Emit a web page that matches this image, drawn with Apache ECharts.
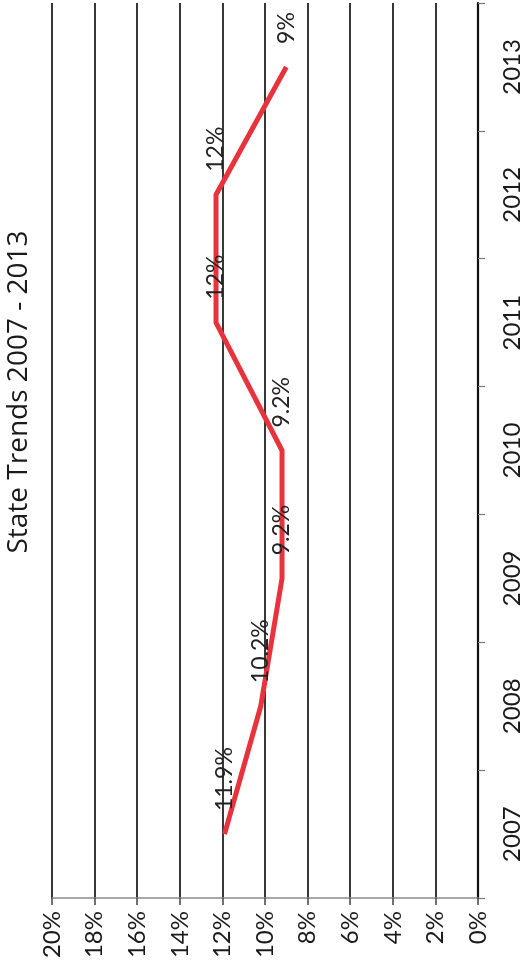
<!DOCTYPE html>
<html>
<head>
<meta charset="utf-8">
<script src="https://cdn.jsdelivr.net/npm/echarts@6/dist/echarts.min.js"></script>
<style>
html,body{margin:0;padding:0;background:#fff;}
#chart{width:530px;height:975px;}
</style>
</head>
<body>
<div id="chart"></div>
<script>
const titleText = 'State Trends 2007 - 2013';
const years = ['2007', '2008', '2009', '2010', '2011', '2012', '2013'];
const rates = [11.9, 10.2, 9.2, 9.2, 12.3, 12.3, 9.0];
const rateLabels = ['11.9%', '10.2%', '9.2%', '9.2%', '12%', '12%', '9%'];
const valueMin = 0, valueMax = 20, valueStep = 2;

const FONT = 'Lato';
const chart = echarts.init(document.getElementById('chart'), null, {renderer: 'canvas'});
chart.setOption({
  animation: false,
  backgroundColor: '#ffffff',
  grid: {left: 52, right: 52, top: 3, bottom: 77, containLabel: false},
  graphic: [{
    type: 'text',
    x: 19, y: 392,
    rotation: Math.PI / 2,
    style: {
      text: titleText,
      font: '28px "Open Sans"',
      fill: '#1a1a1a',
      align: 'center',
      verticalAlign: 'middle'
    }
  }],
  xAxis: {
    type: 'value',
    inverse: true,
    position: 'bottom',
    min: valueMin, max: valueMax, interval: valueStep,
    axisLine: {show: true, lineStyle: {color: '#8a8a8a', width: 1.5}},
    axisTick: {show: true, length: 7, lineStyle: {color: '#444', width: 1.5}},
    splitLine: {show: true, lineStyle: {color: '#222', width: 1.8}},
    axisLabel: {
      rotate: 90, margin: 13,
      formatter: '{value}%',
      fontFamily: FONT, fontSize: 24, color: '#1a1a1a'
    }
  },
  yAxis: {
    type: 'category',
    position: 'right',
    data: years,
    boundaryGap: true,
    axisLine: {show: true, lineStyle: {color: '#111', width: 2.2}},
    axisTick: {show: true, length: 7, inside: false, lineStyle: {color: '#777', width: 1.2}},
    splitLine: {show: false},
    axisLabel: {
      rotate: 90, margin: 22,
      fontFamily: 'Liberation Sans Narrow, Lato', fontSize: 24, color: '#1a1a1a'
    }
  },
  series: [{
    type: 'line',
    data: rates,
    symbol: 'circle',
    symbolSize: 2,
    showSymbol: true,
    showAllSymbol: true,
    itemStyle: {color: 'rgba(232,51,60,0)', borderWidth: 0},
    lineStyle: {color: '#e8333c', width: 5},
    label: {
      show: true,
      position: 'top',
      distance: 22,
      rotate: 90,
      align: 'left',
      verticalAlign: 'middle',
      fontFamily: FONT, fontSize: 23, color: '#222',
      formatter: function (p) { return rateLabels[p.dataIndex]; }
    }
  }]
});
</script>
</body>
</html>
